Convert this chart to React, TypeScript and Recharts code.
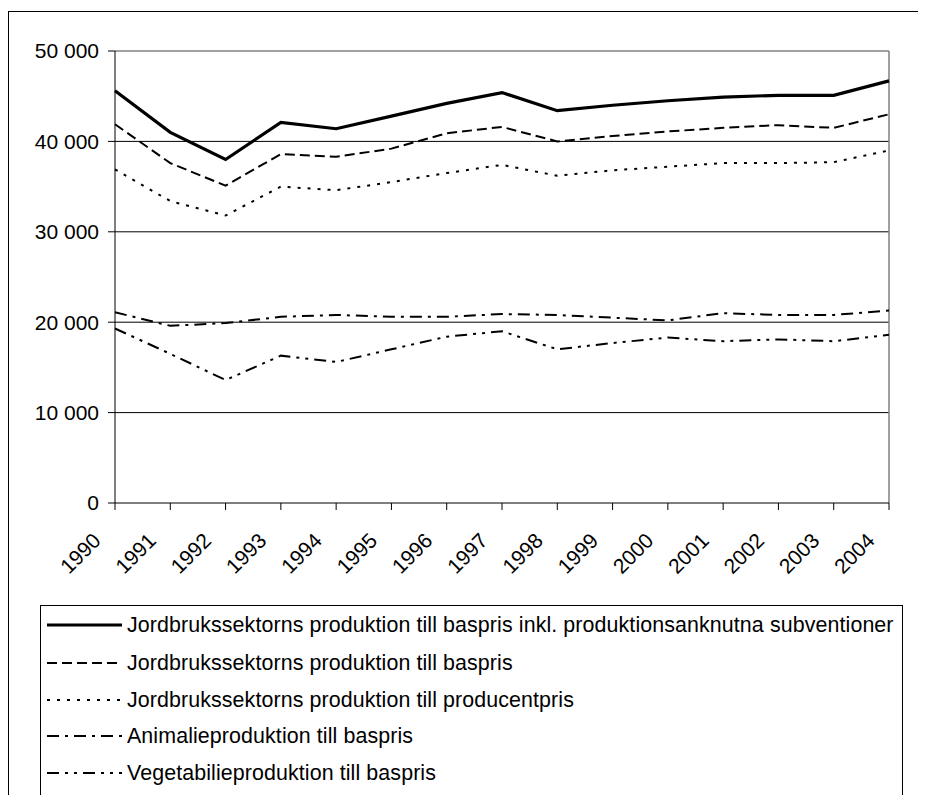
import { LineChart, Line, XAxis, YAxis, CartesianGrid, ReferenceLine } from 'recharts';

const FONT = '"Liberation Sans", Arial, sans-serif';

const years = [1990, 1991, 1992, 1993, 1994, 1995, 1996, 1997, 1998, 1999, 2000, 2001, 2002, 2003, 2004];
const inklSubv = [45600, 41000, 38000, 42100, 41400, 42800, 44200, 45400, 43400, 44000, 44500, 44900, 45100, 45100, 46700];
const baspris = [41900, 37600, 35100, 38600, 38300, 39200, 40900, 41600, 40000, 40600, 41100, 41500, 41800, 41500, 43000];
const producentpris = [36900, 33400, 31800, 35000, 34600, 35500, 36500, 37400, 36200, 36800, 37200, 37600, 37600, 37700, 39000];
const animalie = [21100, 19600, 19900, 20600, 20800, 20600, 20600, 20900, 20800, 20500, 20200, 21000, 20800, 20800, 21300];
const vegetabilie = [19300, 16500, 13600, 16300, 15600, 17000, 18400, 19000, 17000, 17700, 18300, 17900, 18100, 17900, 18600];
const yTicks = [0, 10000, 20000, 30000, 40000, 50000];

const SERIES = [
  { key: 'inklSubv', name: 'Jordbrukssektorns produktion till baspris inkl. produktionsanknutna subventioner', width: 3.2, dash: undefined },
  { key: 'baspris', name: 'Jordbrukssektorns produktion till baspris', width: 2, dash: '10 5' },
  { key: 'producentpris', name: 'Jordbrukssektorns produktion till producentpris', width: 2, dash: '3 7' },
  { key: 'animalie', name: 'Animalieproduktion till baspris', width: 2, dash: '12 6 3 6' },
  { key: 'vegetabilie', name: 'Vegetabilieproduktion till baspris', width: 2, dash: '12 6 3 6 3 6' },
];

const data = years.map((year, i) => ({
  year,
  inklSubv: inklSubv[i],
  baspris: baspris[i],
  producentpris: producentpris[i],
  animalie: animalie[i],
  vegetabilie: vegetabilie[i],
}));

const fmt = (v: number) => String(v).replace(/\B(?=(\d{3})+(?!\d))/g, ' ');

function YearTick({ x, y, payload }: { x?: number; y?: number; payload?: { value: number } }) {
  return (
    <text
      transform={`translate(${(x ?? 0) - 13}, ${(y ?? 0) + 30}) rotate(-45)`}
      textAnchor="end"
      fontSize={21}
      fontFamily={FONT}
      fill="#000"
    >
      {payload?.value}
    </text>
  );
}

function ChartLegend() {
  const rowY = [625, 663, 700, 736, 773];
  return (
    <svg
      width={926}
      height={803}
      style={{ position: 'absolute', left: 0, top: 0, pointerEvents: 'none' }}
    >
      <rect x={8.5} y={11.5} width={913} height={800} fill="none" stroke="#000" strokeWidth={1} />
      <rect x={40.5} y={605.5} width={862} height={195} fill="#fff" stroke="#000" strokeWidth={1} />
      {SERIES.map((s, i) => (
        <g key={s.key}>
          <line
            x1={47}
            x2={122}
            y1={rowY[i]}
            y2={rowY[i]}
            stroke="#000"
            strokeWidth={s.width}
            strokeDasharray={s.dash}
          />
          <text
            x={127}
            y={rowY[i] + 7}
            fontSize={21.4}
            letterSpacing={0.1}
            fontFamily={FONT}
            fill="#000"
          >
            {s.name}
          </text>
        </g>
      ))}
    </svg>
  );
}

export default function App() {
  return (
    <div style={{ position: 'relative', width: 926, height: 803, margin: -8, background: '#fff' }}>
      <LineChart
        width={926}
        height={803}
        data={data}
        margin={{ top: 51, right: 37, bottom: 240, left: 0 }}
      >
        <CartesianGrid
          horizontal
          vertical={false}
          stroke="#000"
          horizontalValues={[10000, 20000, 30000, 40000]}
        />
        <XAxis
          dataKey="year"
          type="number"
          domain={[1990, 2004]}
          ticks={years}
          interval={0}
          height={60}
          tickSize={7}
          tickMargin={2}
          axisLine={{ stroke: '#000' }}
          tickLine={{ stroke: '#000' }}
          tick={<YearTick />}
        />
        <YAxis
          type="number"
          domain={[0, 50000]}
          ticks={yTicks}
          width={115}
          tickSize={7}
          tickMargin={9}
          axisLine={{ stroke: '#000' }}
          tickLine={{ stroke: '#000' }}
          tickFormatter={fmt}
          tick={{ fontSize: 21, fontFamily: FONT, fill: '#000' }}
        />
        <ReferenceLine y={50000} stroke="#808080" strokeWidth={1.5} />
        <ReferenceLine x={2004} stroke="#808080" strokeWidth={1.5} />
        {SERIES.map((s) => (
          <Line
            key={s.key}
            type="linear"
            dataKey={s.key}
            name={s.name}
            stroke="#000"
            strokeWidth={s.width}
            strokeDasharray={s.dash}
            dot={false}
            activeDot={false}
            isAnimationActive={false}
          />
        ))}
      </LineChart>
      <ChartLegend />
    </div>
  );
}
